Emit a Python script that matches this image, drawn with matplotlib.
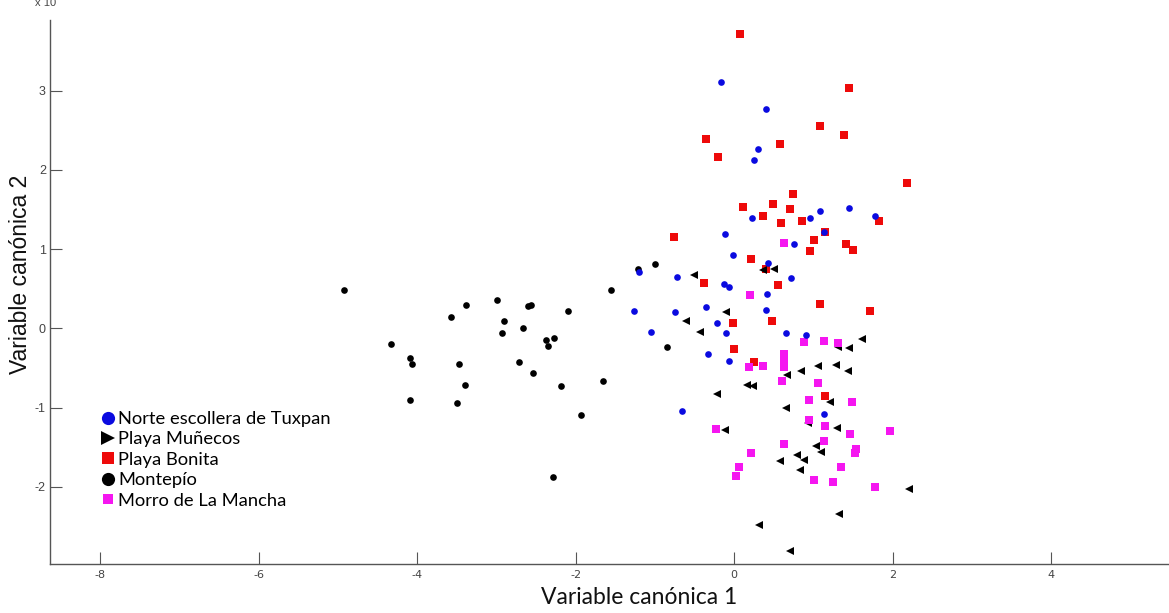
import matplotlib
matplotlib.use("Agg")
import matplotlib.pyplot as plt
from matplotlib.lines import Line2D

plt.rcParams['axes.unicode_minus'] = False

# Canonical scores, one pair of lists per group
tuxpan_x = [-0.16, 0.40, 0.30, 0.25, 0.22, 0.96, 1.09, 1.45, 1.78, 1.13, -0.11, 0.75, -0.02,
            -1.20, -0.72, 0.43, 0.72, -0.13, -0.06, 0.42, 0.40, -1.27, -0.74, -0.36, -0.21,
            -0.10, -1.05, 0.65, 0.91, -0.33, -0.06, -0.66, 1.13]
tuxpan_y = [3.11, 2.77, 2.27, 2.13, 1.39, 1.39, 1.48, 1.52, 1.42, 1.21, 1.19, 1.06, 0.92,
            0.71, 0.65, 0.83, 0.63, 0.56, 0.52, 0.43, 0.23, 0.22, 0.20, 0.27, 0.07,
            -0.06, -0.05, -0.06, -0.08, -0.32, -0.41, -1.05, -1.08]

munecos_x = [0.37, 0.50, -0.50, -0.10, -0.61, -0.43, 1.62, 1.31, 1.45, 1.29, 1.06, 0.85, 1.44,
             0.67, 0.16, 0.24, -0.21, 1.21, 0.65, 0.93, 1.30, -0.11, 1.04, 1.10, 0.79, 0.88,
             0.58, 0.83, 2.21, 1.33, 0.32, 0.71]
munecos_y = [0.73, 0.75, 0.67, 0.21, 0.09, -0.05, -0.13, -0.23, -0.25, -0.46, -0.48, -0.54, -0.54,
             -0.59, -0.71, -0.73, -0.83, -0.93, -1.01, -1.20, -1.26, -1.28, -1.49, -1.56, -1.60, -1.66,
             -1.68, -1.79, -2.03, -2.35, -2.48, -2.81]

bonita_x = [0.07, 1.45, 1.09, 1.39, -0.36, 0.58, -0.20, 2.18, 0.74, 0.11, 0.49, 0.70, 0.36,
            0.59, 0.86, 1.83, 1.15, -0.76, 1.01, 1.41, 1.50, 0.96, 0.21, 0.40, -0.38, 0.56,
            1.09, 1.72, -0.02, 0.48, 0.00, 0.25, 1.15]
bonita_y = [3.71, 3.04, 2.55, 2.44, 2.39, 2.33, 2.16, 1.84, 1.70, 1.53, 1.57, 1.51, 1.42,
            1.33, 1.35, 1.36, 1.21, 1.15, 1.11, 1.06, 0.99, 0.97, 0.87, 0.75, 0.57, 0.55,
            0.31, 0.22, 0.07, 0.09, -0.26, -0.42, -0.86]

montepio_x = [-4.93, -4.33, -4.09, -4.07, -4.09, -3.58, -3.38, -3.47, -3.40, -3.50, -2.99, -2.90,
              -2.93, -2.72, -2.67, -2.60, -2.56, -2.54, -2.38, -2.35, -2.27, -2.19, -2.10, -1.93,
              -2.29, -1.65, -1.56, -1.21, -1.00, -0.85]
montepio_y = [0.48, -0.20, -0.38, -0.45, -0.90, 0.14, 0.29, -0.45, -0.72, -0.94, 0.36, 0.09,
              -0.06, -0.43, 0.01, 0.28, 0.30, -0.57, -0.15, -0.22, -0.12, -0.73, 0.22, -1.10,
              -1.88, -0.66, 0.49, 0.75, 0.81, -0.23]

mancha_x = [0.63, 0.20, 0.88, 1.14, 1.31, 0.63, 0.63, 0.19, 0.37, 0.63, 0.61, 1.06, 0.94, 1.49,
            0.94, 1.15, -0.23, 1.46, 1.97, 1.14, 0.63, 0.21, 1.54, 1.52, 0.06, 1.35, 0.02, 1.01,
            1.25, 1.78]
mancha_y = [1.08, 0.42, -0.17, -0.16, -0.18, -0.33, -0.39, -0.49, -0.48, -0.49, -0.66, -0.69,
            -0.91, -0.93, -1.16, -1.23, -1.27, -1.33, -1.30, -1.42, -1.46, -1.57, -1.53, -1.57,
            -1.75, -1.75, -1.87, -1.91, -1.94, -2.00]

labels = ["Norte escollera de Tuxpan", "Playa Muñecos", "Playa Bonita", "Montepío",
          "Morro de La Mancha"]
xticks = [-8, -6, -4, -2, 0, 2, 4]
yticks = [-2, -1, 0, 1, 2, 3]

blue = "#0a0ae0"
red = "#ee0a0a"
magenta = "#f516f0"

fig = plt.figure(figsize=(11.69, 6.13), dpi=100)
ax = fig.add_axes([50 / 1169, 49 / 613, 1 - 50 / 1169, 544 / 613])

ax.plot(bonita_x, bonita_y, "s", color=red, ms=5.4, mew=0, zorder=2)
ax.plot(munecos_x, munecos_y, "<", color="black", ms=6.0, mew=0, zorder=3)
ax.plot(mancha_x, mancha_y, "s", color=magenta, ms=5.4, mew=0, zorder=4)
ax.plot(montepio_x, montepio_y, "o", color="black", ms=4.8, mew=0, zorder=5)
ax.plot(tuxpan_x, tuxpan_y, "o", color=blue, ms=4.8, mew=0, zorder=6)

ax.set_xlim(-8.636, 5.49)
ax.set_ylim(-2.976, 3.893)

for side in ["top", "right"]:
    ax.spines[side].set_visible(False)
for side in ["left", "bottom"]:
    ax.spines[side].set_color("#555555")
    ax.spines[side].set_linewidth(1.0)

ax.set_xticks(xticks)
ax.set_yticks(yticks)
ax.tick_params(direction="in", length=8.5, width=0.8, color="#555555")
ax.tick_params(axis="x", pad=4, labelsize=8, labelcolor="#444444")
ax.tick_params(axis="y", pad=3, labelsize=9, labelcolor="#444444")
for t in ax.get_xticklabels():
    t.set_family(["Liberation Sans Narrow", "DejaVu Sans"])
for t in ax.get_yticklabels():
    t.set_family("Liberation Sans")

ax.set_xlabel("Variable canónica 1", fontsize=16.5, family="Lato", color="#111111")
ax.xaxis.set_label_coords(0.5265, -0.043)
ax.set_ylabel("Variable canónica 2", fontsize=16.5, family="Liberation Sans", color="#111111")
ax.yaxis.set_label_coords(-0.016, 0.533)

fig.text(0.03, 0.995, "x 10", fontsize=8, color="#444444", family="Liberation Sans",
         va="center")

handles = [
    Line2D([], [], ls="none", marker="o", color=blue, ms=9.5, mew=0),
    Line2D([], [], ls="none", marker=">", color="black", ms=9.5, mew=0),
    Line2D([], [], ls="none", marker="s", color=red, ms=8, mew=0),
    Line2D([], [], ls="none", marker="o", color="black", ms=9.5, mew=0),
    Line2D([], [], ls="none", marker="s", color=magenta, ms=7.5, mew=0),
]
leg = ax.legend(handles, labels, loc="upper left",
                bbox_to_anchor=(50.5 / 1119, (564 - 411) / 544),
                frameon=False, handlelength=0.8, handletextpad=0.15,
                labelspacing=0.24, borderpad=0, borderaxespad=0,
                prop={"family": "Lato", "size": 13.2})

fig.savefig("out.png", dpi=100)
